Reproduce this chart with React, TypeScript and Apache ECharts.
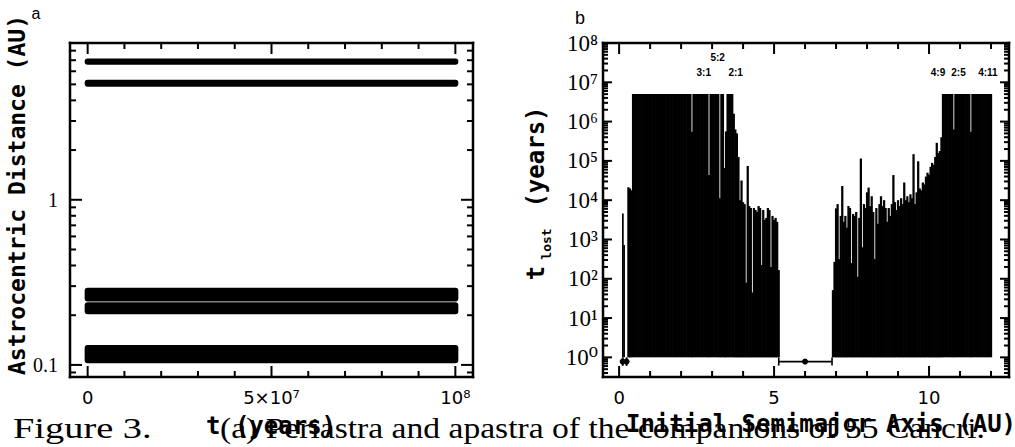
import React, { useEffect, useRef } from "react";
import * as echarts from "echarts";

// ---------------- Panel a: periastra / apastra vs time ----------------
const timeStart = 0;
const timeEnd = 1e8;
const bandNames = ["d apastron", "d periastron", "c upper", "c lower", "b"];
const bandLow = [6.58, 4.84, 0.2425, 0.203, 0.1025];
const bandHigh = [7.16, 5.34, 0.293, 0.2395, 0.132];

const leftXTicks = [0, 5e7, 1e8];
const leftXTickLabels = ["0", "5×10⁷", "10⁸"];
const leftXMinorTicks = [1e7, 2e7, 3e7, 4e7, 6e7, 7e7, 8e7, 9e7];
const leftYTicks = [0.1, 1];
const leftYTickLabels = ["0.1", "1"];
const leftYMinorTicks = [0.09, 0.2, 0.3, 0.4, 0.5, 0.6, 0.7, 0.8, 0.9, 2, 3, 4, 5, 6, 7, 8];

// ---------------- Panel b: t_lost vs initial semimajor axis ----------------
const barStep = 0.05;
const innerStart = 0.3;
// log10(t_lost / yr), a = 0.30 ... 5.15
const innerLogT = [
  4.33, 4.3, 4.25, 6.7,
  6.7, 6.7, 6.7, 6.7, 6.7, 6.7, 6.7, 6.7, 6.7, 6.7,
  6.7, 6.7, 6.7, 6.7, 6.7, 6.7, 6.7, 6.7, 6.7, 6.7,
  6.7, 6.7, 6.7, 6.7, 6.7, 6.7, 6.7, 6.7, 6.7, 6.7,
  6.7, 6.7, 6.7, 6.7, 6.7, 6.7, 6.7,
  5.74,
  6.7, 6.7, 6.7, 6.7, 6.7, 6.7, 6.7, 6.7, 6.7, 6.7,
  4.64,
  6.7, 6.7, 6.7, 6.7, 6.7, 6.7,
  4.05, 6.7, 6.7, 4.82, 5.75, 6.7, 6.7, 6.7, 6.7,
  6.2, 5.8, 5.7, 5.1, 4.0, 4.5, 3.95, 3.9, 1.9, 4.87,
  3.85, 3.8, 1.65, 3.8, 3.75, 3.7, 3.85, 3.8, 2.35, 3.75,
  3.5, 3.55, 3.8, 3.75, 2.3, 3.6, 3.5, 3.55, 3.45, 2.22,
];
const outerStart = 6.9;
// log10(t_lost / yr), a = 6.90 ... 12.00
const outerLogT = [
  1.71, 2.43, 3.79, 3.9, 2.5, 3.6, 4.36, 3.45, 3.6, 3.3, 3.85, 3.8,
  2.4, 3.65, 3.6, 3.7, 2.05, 3.55, 5.06, 2.8, 3.9, 3.8,
  4.2, 4.32, 3.85, 4.1, 3.7, 2.5, 3.8, 3.4, 3.9, 4.1,
  3.85, 4.0, 3.8, 3.45, 3.8, 3.6, 3.9, 4.64, 3.95, 3.75,
  4.0, 3.85, 4.05, 3.9, 4.45, 4.0, 4.1, 3.95, 4.15, 4.05,
  5.17, 3.9, 4.2, 4.99, 4.3, 4.25, 4.45, 4.4, 4.6, 4.7,
  4.65, 4.85, 4.95, 4.9, 5.1, 5.46, 5.2, 5.25, 5.6,
  6.7, 6.7, 6.7, 6.7, 6.7, 6.7, 6.7,
  5.8,
  6.7, 6.7, 6.7, 6.7, 6.7, 6.7, 6.7, 6.7, 6.7, 6.7,
  5.74,
  6.7, 6.7, 6.7, 6.7, 6.7, 6.7, 6.7, 6.7, 6.7, 6.7, 6.7, 6.7, 6.7,
];
const spikeA = [0.12, 0.16];
const spikeLogT = [3.66, 2.86];
const spikeWidth = 0.03;

const planetNames = ["b", "c", "d"];
const planetA = [0.115, 0.24, 6.0];
const planetLo = [0.115, 0.24, 5.15];
const planetHi = [0.115, 0.24, 6.87];
const planetRowT = 0.78;

const resNames = ["3:1", "5:2", "2:1", "4:9", "2:5", "4:11"];
const resA = [2.73, 3.18, 3.76, 10.29, 10.95, 11.9];
const resLogT = [7.26, 7.62, 7.26, 7.26, 7.26, 7.26];

const rightXTicks = [0, 5, 10];
const rightXTickLabels = ["0", "5", "10"];
const rightXMinorTicks = [1, 2, 3, 4, 6, 7, 8, 9, 11, 12];
const rightYTicks = [1, 1e1, 1e2, 1e3, 1e4, 1e5, 1e6, 1e7, 1e8];
const rightYTickLabels = ["10⁰", "10¹", "10²", "10³", "10⁴", "10⁵", "10⁶", "10⁷", "10⁸"];
const minorMantissas = [2, 3, 4, 5, 6, 7, 8, 9];
const minorDecades = [0.1, 1, 10, 100, 1e3, 1e4, 1e5, 1e6, 1e7];

const BLACK = "#000";
const titleFont = '"DejaVu Sans Mono", monospace';

function lookup(ticks: number[], labels: string[], v: number) {
  for (let i = 0; i < ticks.length; i++) {
    if (Math.abs(ticks[i] - v) <= Math.abs(ticks[i]) * 1e-6 + 1e-9) return labels[i];
  }
  return "";
}

function axis(kind: "value" | "log", grid: number, pos: string, min: number, max: number,
  ticks?: number[], labels?: string[], labelStyle?: any) {
  return {
    type: kind,
    logBase: 10,
    gridIndex: grid,
    position: pos,
    min,
    max,
    axisLine: { show: false, onZero: false },
    splitLine: { show: false },
    axisTick: { show: false },
    axisLabel: labels && ticks
      ? { show: true, customValues: ticks, formatter: (v: number) => lookup(ticks, labels, v), color: BLACK, ...labelStyle }
      : { show: false },
  };
}

// ticks and frame as filled rectangles of a custom series (same path as the bars)
function frameSeries(xi: number, yi: number, ext: number[],
  xMajor: number[], xMinor: number[], yMajor: number[], yMinor: number[],
  xLen: number[], yLen: number[]) {
  const [x0, x1, y0, y1] = ext;
  const xm = (x0 + x1) / 2;
  const ym = Math.sqrt(y0 * y1);
  const data: number[][] = [];
  for (let s = 0; s < 4; s++) data.push([xm, ym, 2, s]);
  xMajor.forEach((v) => { data.push([v, ym, 0, xLen[0]]); });
  xMinor.forEach((v) => { data.push([v, ym, 0, xLen[1]]); });
  yMajor.forEach((v) => { data.push([xm, v, 1, yLen[0]]); });
  yMinor.forEach((v) => { data.push([xm, v, 1, yLen[1]]); });
  return {
    type: "custom",
    xAxisIndex: xi,
    yAxisIndex: yi,
    z: 10,
    data,
    encode: { x: 0, y: 1 },
    renderItem: (params: any, api: any) => {
      const left = api.coord([x0, ym])[0];
      const right = api.coord([x1, ym])[0];
      const top = api.coord([xm, y1])[1];
      const bottom = api.coord([xm, y0])[1];
      const p = api.coord([api.value(0), api.value(1)]);
      const kind = api.value(2), len = api.value(3);
      const bw = 2.5, tw = 2;
      const fill = { fill: BLACK };
      if (kind === 2) {
        const sides = [
          { x: left - bw / 2, y: top - bw / 2, width: right - left + bw, height: bw },
          { x: left - bw / 2, y: bottom - bw / 2, width: right - left + bw, height: bw },
          { x: left - bw / 2, y: top - bw / 2, width: bw, height: bottom - top + bw },
          { x: right - bw / 2, y: top - bw / 2, width: bw, height: bottom - top + bw },
        ];
        return { type: "rect", shape: sides[len], style: fill };
      }
      if (kind === 0) {
        return {
          type: "group",
          children: [
            { type: "rect", shape: { x: p[0] - tw / 2, y: bottom - len, width: tw, height: len }, style: fill },
            { type: "rect", shape: { x: p[0] - tw / 2, y: top, width: tw, height: len }, style: fill },
          ],
        };
      }
      return {
        type: "group",
        children: [
          { type: "rect", shape: { x: left, y: p[1] - tw / 2, width: len, height: tw }, style: fill },
          { type: "rect", shape: { x: right - len, y: p[1] - tw / 2, width: len, height: tw }, style: fill },
        ],
      };
    },
  };
}

export default function App() {
  const ref = useRef<HTMLDivElement>(null);
  useEffect(() => {
    const chart = echarts.init(ref.current!, undefined, { renderer: "svg" });

    const rightYMinor: number[] = [];
    minorDecades.forEach((d) => minorMantissas.forEach((m) => {
      const v = m * d;
      if (v > 0.32 && v < 1e8) rightYMinor.push(v);
    }));

    const bars: number[][] = [];
    innerLogT.forEach((l, i) => bars.push([innerStart + i * barStep, Math.pow(10, l), barStep]));
    outerLogT.forEach((l, i) => bars.push([outerStart + i * barStep, Math.pow(10, l), barStep]));
    spikeA.forEach((a, i) => bars.push([a, Math.pow(10, spikeLogT[i]), spikeWidth]));

    const lxMin = -4.8e6, lxMax = 1.048e8, lyMin = 0.0845, lyMax = 8.9;
    const rxMin = -0.52, rxMax = 12.58, ryMin = Math.pow(10, -0.5), ryMax = 1e8;

    const xLabelStyle = { fontFamily: '"DejaVu Sans", sans-serif', fontSize: 18, margin: 11 };
    const lyLabelStyle = { fontFamily: '"Liberation Serif", serif', fontSize: 20, margin: 12 };
    const ryLabelStyle = { fontFamily: '"Liberation Serif", "DejaVu Serif", serif', fontSize: 23, margin: 5 };

    const texts: any[] = [
      { type: "text", x: 13, y: 428, scaleX: 1.28, style: { text: "Figure 3.", font: '30px "Liberation Serif", serif', fill: BLACK, textAlign: "left", textVerticalAlign: "middle" } },
      { type: "text", x: 220, y: 428, scaleX: 1.12, style: { text: "(a) Periastra and apastra of the companions of 55 Cancri.", font: '30px "Liberation Serif", serif', fill: BLACK, textAlign: "left", textVerticalAlign: "middle" } },
      { type: "text", x: 271, y: 426, style: { text: "t (years)", font: `bold 24px ${titleFont}`, fill: BLACK, textAlign: "center", textVerticalAlign: "middle" } },
      { type: "text", x: 821, y: 424, style: { text: "Initial Semimajor Axis (AU)", font: `bold 24px ${titleFont}`, fill: BLACK, textAlign: "center", textVerticalAlign: "middle" } },
      { type: "text", x: 17, y: 195, rotation: Math.PI / 2, style: { text: "Astrocentric Distance (AU)", font: `bold 23px ${titleFont}`, fill: BLACK, textAlign: "center", textVerticalAlign: "middle" } },
      { type: "text", x: 536, y: 157, rotation: Math.PI / 2, style: { text: "(years)", font: `bold 24px ${titleFont}`, fill: BLACK, textAlign: "center", textVerticalAlign: "middle" } },
      { type: "text", x: 546, y: 244, rotation: Math.PI / 2, style: { text: "lost", font: `bold 13px ${titleFont}`, fill: BLACK, textAlign: "center", textVerticalAlign: "middle" } },
      { type: "text", x: 536, y: 273, rotation: Math.PI / 2, style: { text: "t", font: `bold 24px ${titleFont}`, fill: BLACK, textAlign: "center", textVerticalAlign: "middle" } },
      { type: "text", x: 36, y: 13, style: { text: "a", font: '16px "Liberation Sans", sans-serif', fill: BLACK, textAlign: "center", textVerticalAlign: "middle" } },
      { type: "text", x: 580, y: 18, style: { text: "b", font: '18px "Liberation Sans", sans-serif', fill: BLACK, textAlign: "center", textVerticalAlign: "middle" } },
    ];

    const option: any = {
      animation: false,
      backgroundColor: "#fff",
      grid: [
        { left: 70, top: 43, width: 403, height: 334 },
        { left: 603, top: 43, width: 406, height: 334 },
      ],
      xAxis: [
        axis("value", 0, "bottom", lxMin, lxMax, leftXTicks, leftXTickLabels, xLabelStyle),
        axis("value", 1, "bottom", rxMin, rxMax, rightXTicks, rightXTickLabels, xLabelStyle),
      ],
      yAxis: [
        axis("log", 0, "left", lyMin, lyMax, leftYTicks, leftYTickLabels, lyLabelStyle),
        axis("log", 1, "left", ryMin, ryMax, rightYTicks, rightYTickLabels, ryLabelStyle),
      ],
      series: [
        {
          type: "custom",
          name: "bands",
          xAxisIndex: 0,
          yAxisIndex: 0,
          data: bandNames.map((n, i) => ({ name: n, value: [timeStart, timeEnd, bandLow[i], bandHigh[i]] })),
          encode: { x: [0, 1], y: [2, 3] },
          renderItem: (params: any, api: any) => {
            const p0 = api.coord([api.value(0), api.value(3)]);
            const p1 = api.coord([api.value(1), api.value(2)]);
            return {
              type: "rect",
              shape: { x: p0[0] - 3, y: p0[1], width: p1[0] - p0[0] + 6, height: p1[1] - p0[1], r: 3 },
              style: { fill: BLACK },
            };
          },
        },
        {
          type: "custom",
          name: "tlost",
          xAxisIndex: 1,
          yAxisIndex: 1,
          data: bars,
          encode: { x: 0, y: 1 },
          renderItem: (params: any, api: any) => {
            const a = api.value(0), t = api.value(1), w = api.value(2);
            const p0 = api.coord([a - w / 2, t]);
            const p1 = api.coord([a + w / 2, 1]);
            return {
              type: "rect",
              shape: { x: p0[0] - 0.35, y: p0[1], width: Math.max(1, p1[0] - p0[0]) + 0.7, height: p1[1] - p0[1] },
              style: { fill: BLACK, stroke: "none" },
            };
          },
        },
        {
          type: "custom",
          name: "planets",
          xAxisIndex: 1,
          yAxisIndex: 1,
          data: planetNames.map((n, i) => ({ name: n, value: [planetA[i], planetLo[i], planetHi[i], planetRowT] })),
          encode: { x: 0, y: 3 },
          renderItem: (params: any, api: any) => {
            const pc = api.coord([api.value(0), api.value(3)]);
            const pl = api.coord([api.value(1), api.value(3)]);
            const ph = api.coord([api.value(2), api.value(3)]);
            const st = { stroke: BLACK, lineWidth: 1.6 };
            return {
              type: "group",
              children: [
                { type: "line", shape: { x1: pl[0], y1: pc[1], x2: ph[0], y2: pc[1] }, style: st },
                { type: "line", shape: { x1: pl[0], y1: pc[1] - 4, x2: pl[0], y2: pc[1] + 4 }, style: st },
                { type: "line", shape: { x1: ph[0], y1: pc[1] - 4, x2: ph[0], y2: pc[1] + 4 }, style: st },
                { type: "circle", shape: { cx: pc[0], cy: pc[1], r: 3 }, style: { fill: BLACK } },
              ],
            };
          },
        },
        {
          type: "custom",
          name: "resonances",
          xAxisIndex: 1,
          yAxisIndex: 1,
          data: resNames.map((n, i) => ({ name: n, value: [resA[i], Math.pow(10, resLogT[i])] })),
          encode: { x: 0, y: 1 },
          renderItem: (params: any, api: any) => {
            const p = api.coord([api.value(0), api.value(1)]);
            return {
              type: "text",
              x: p[0],
              y: p[1],
              style: {
                text: resNames[params.dataIndex],
                fill: BLACK,
                font: 'bold 10px "Liberation Sans", sans-serif',
                textAlign: "center",
                textVerticalAlign: "middle",
              },
            };
          },
        },
        frameSeries(0, 0, [lxMin, lxMax, lyMin, lyMax], leftXTicks, leftXMinorTicks, leftYTicks, leftYMinorTicks, [11, 6], [12, 6]),
        frameSeries(1, 1, [rxMin, rxMax, ryMin, ryMax], rightXTicks, rightXMinorTicks, rightYTicks, rightYMinor, [11, 6], [9, 5]),
      ],
      graphic: texts,
    };
    chart.setOption(option);
    return () => chart.dispose();
  }, []);
  return <div ref={ref} style={{ position: "absolute", left: 0, top: 0, width: 1015, height: 447 }} />;
}
